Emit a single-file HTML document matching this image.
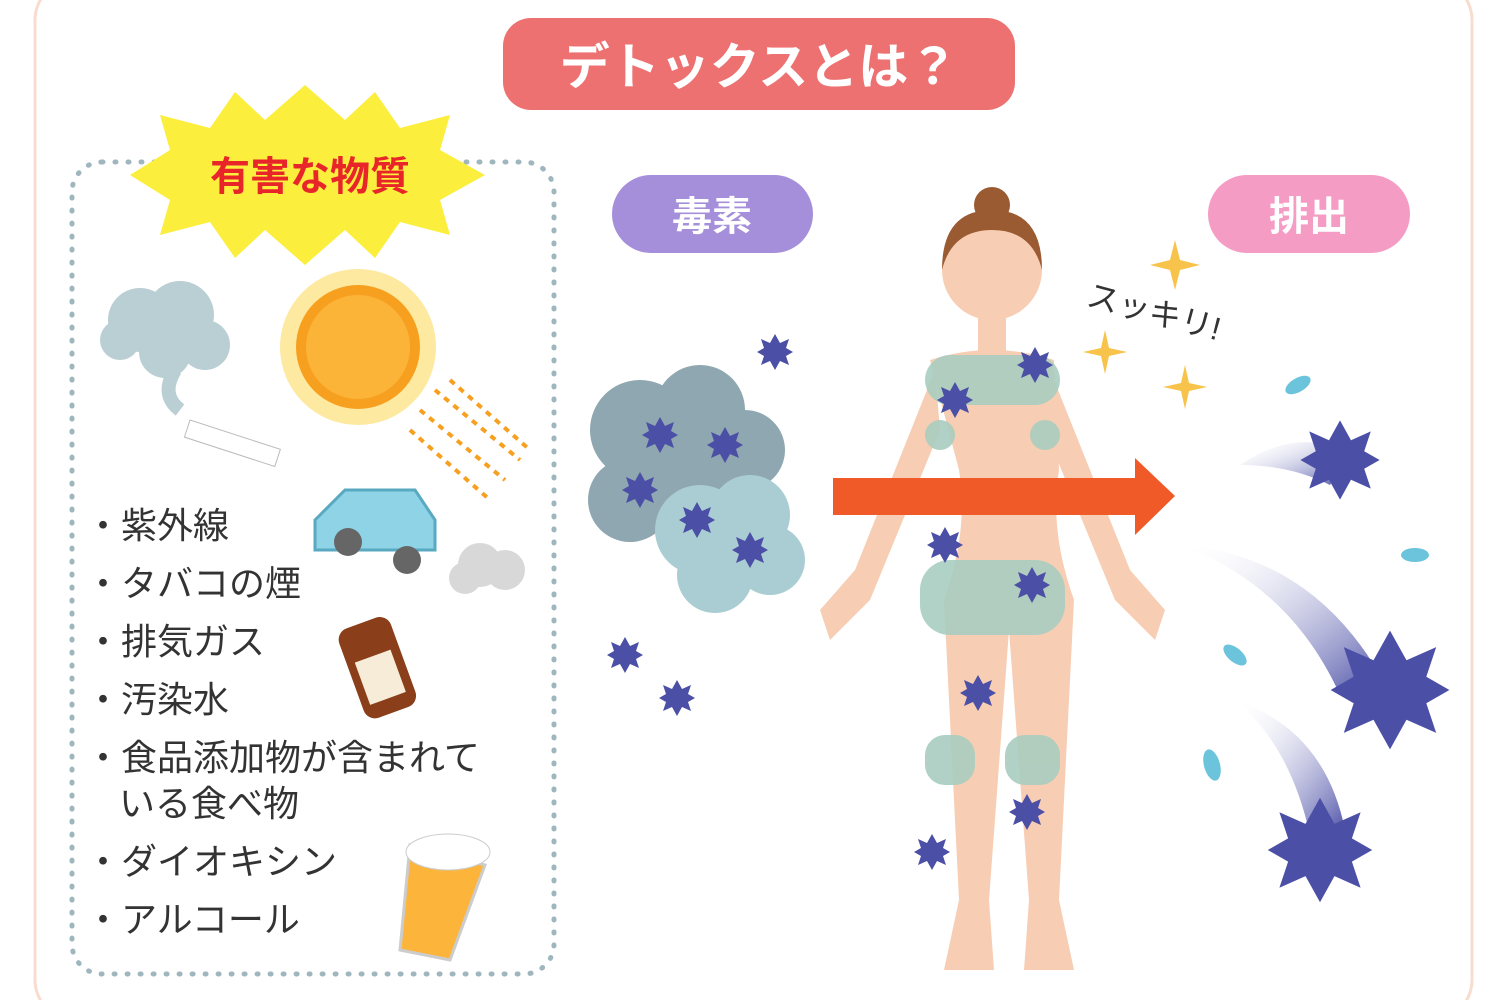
<!DOCTYPE html>
<html><head><meta charset="utf-8"><style>
body{margin:0;width:1504px;height:1000px;overflow:hidden;background:#fff;font-family:"Liberation Sans","Noto Sans CJK JP",sans-serif}
svg{position:absolute;left:0;top:0}
</style></head><body>
<svg width="1504" height="1000" viewBox="0 0 1504 1000">
<defs>
<g id="vir"><polygon points="0,-18 5,-9 14,-13 11,-4 18,0 11,4 14,13 5,9 0,18 -5,9 -14,13 -11,4 -18,0 -11,-4 -14,-13 -5,-9" fill="#4b4fa6"/></g>
<linearGradient id="tr" x1="0" y1="0" x2="1" y2="1"><stop offset="0" stop-color="#fff" stop-opacity="0"/><stop offset="1" stop-color="#4b4fa6"/></linearGradient>
</defs>
<rect x="35" y="-20" width="1437" height="1040" rx="40" fill="none" stroke="#f8dcd0" stroke-width="3"/>
<rect x="503" y="18" width="512" height="92" rx="28" fill="#ee7171"/>
<text x="759" y="84" font-size="50" font-weight="bold" fill="#fff" text-anchor="middle">デトックスとは？</text>
<rect x="72" y="162" width="482" height="812" rx="30" fill="none" stroke="#9fb6be" stroke-width="5" stroke-dasharray="1 12" stroke-linecap="round"/>
<polygon points="130,175 170,150 160,115 210,128 235,92 265,120 305,85 345,120 375,92 400,128 450,115 440,150 485,175 440,200 450,235 400,222 375,258 345,230 305,265 265,230 235,258 210,222 160,235 170,200" fill="#fbee3c"/>
<text x="310" y="190" font-size="40" font-weight="bold" fill="#e8262a" text-anchor="middle">有害な物質</text>
<g fill="#b9cfd4"><circle cx="140" cy="320" r="32"/><circle cx="180" cy="315" r="34"/><circle cx="205" cy="345" r="25"/><circle cx="165" cy="352" r="26"/><circle cx="120" cy="340" r="20"/></g>
<path d="M175 370 q-15 25 5 40" stroke="#b9cfd4" stroke-width="14" fill="none"/>
<rect x="190" y="420" width="95" height="18" fill="#fff" stroke="#bbb" transform="rotate(18 190 420)"/>
<circle cx="358" cy="347" r="78" fill="#fde9a0"/><circle cx="358" cy="347" r="62" fill="#f7a020"/><circle cx="358" cy="347" r="52" fill="#fbb338"/>
<g stroke="#f7a020" stroke-width="4" stroke-dasharray="6 6"><line x1="410" y1="430" x2="490" y2="500"/><line x1="420" y1="410" x2="505" y2="480"/><line x1="435" y1="390" x2="520" y2="460"/><line x1="450" y1="380" x2="530" y2="450"/></g>
<path d="M315 520 l30 -30 h70 l20 30 v30 h-120 z" fill="#8fd3e6" stroke="#5aa9c2" stroke-width="3"/>
<circle cx="348" cy="542" r="14" fill="#666"/><circle cx="407" cy="560" r="14" fill="#666"/>
<g fill="#d8d8d8"><circle cx="480" cy="565" r="22"/><circle cx="505" cy="570" r="20"/><circle cx="465" cy="578" r="16"/></g>
<rect x="350" y="620" width="55" height="95" rx="12" fill="#8a3e1a" transform="rotate(-20 378 668)"/><rect x="358" y="655" width="38" height="45" fill="#f6ecd8" transform="rotate(-20 378 668)"/>
<path d="M410 845 l75 20 l-35 95 l-50 -10 z" fill="#fcb53a" stroke="#ccc" stroke-width="3"/><ellipse cx="448" cy="852" rx="42" ry="18" fill="#fff" stroke="#ccc"/>
<g font-size="36" fill="#333">
<text x="85" y="538">・紫外線</text><text x="85" y="596">・タバコの煙</text><text x="85" y="654">・排気ガス</text><text x="85" y="712">・汚染水</text>
<text x="85" y="770">・食品添加物が含まれて</text><text x="119" y="816">いる食べ物</text><text x="85" y="874">・ダイオキシン</text><text x="85" y="932">・アルコール</text></g>
<rect x="612" y="175" width="201" height="78" rx="39" fill="#a58fda"/>
<text x="712" y="230" font-size="40" font-weight="bold" fill="#fff" text-anchor="middle">毒素</text>
<rect x="1208" y="175" width="202" height="78" rx="39" fill="#f59cc5"/>
<text x="1309" y="230" font-size="40" font-weight="bold" fill="#fff" text-anchor="middle">排出</text>
<g fill="#8fa7b0"><circle cx="640" cy="430" r="50"/><circle cx="700" cy="410" r="45"/><circle cx="745" cy="450" r="40"/><circle cx="630" cy="500" r="42"/><circle cx="690" cy="490" r="50"/></g>
<g fill="#a9cdd2"><circle cx="700" cy="530" r="45"/><circle cx="750" cy="515" r="40"/><circle cx="770" cy="560" r="35"/><circle cx="715" cy="575" r="38"/></g>
<use href="#vir" x="660" y="435"/><use href="#vir" x="725" y="445"/><use href="#vir" x="640" y="490"/><use href="#vir" x="697" y="520"/><use href="#vir" x="750" y="550"/><use href="#vir" x="775" y="352"/><use href="#vir" x="625" y="655"/><use href="#vir" x="677" y="698"/>
<g fill="#f7cdb3">
<circle cx="992" cy="270" r="50"/><circle cx="992" cy="205" r="18" fill="#9a5a32"/><path d="M942 270 q0 -60 50 -60 q50 0 50 60 q-10 -40 -50 -40 q-40 0 -50 40z" fill="#9a5a32"/>
<rect x="978" y="310" width="28" height="45"/>
<path d="M930 360 q62 -20 124 0 l5 110 q-10 60 15 130 l-15 300 l15 70 h-50 l5 -70 l-20 -270 l-20 270 l5 70 h-50 l15 -70 l-15 -300 q25 -70 15 -130z"/>
<path d="M935 370 l-80 200 l-35 40 l10 30 l40 -40 l70 -170z"/><path d="M1050 370 l80 200 l35 40 l-10 30 l-40 -40 l-70 -170z"/>
</g>
<g fill="#a9cdc0" opacity="0.9"><rect x="920" y="560" width="145" height="75" rx="30"/><rect x="925" y="355" width="135" height="50" rx="25"/><rect x="925" y="735" width="50" height="50" rx="20"/><rect x="1005" y="735" width="55" height="50" rx="20"/><circle cx="940" cy="435" r="15"/><circle cx="1045" cy="435" r="15"/></g>
<use href="#vir" x="955" y="400"/><use href="#vir" x="1035" y="365"/><use href="#vir" x="945" y="545"/><use href="#vir" x="1032" y="585"/><use href="#vir" x="978" y="693"/><use href="#vir" x="1027" y="812"/><use href="#vir" x="932" y="852"/>
<polygon points="833,478 1135,478 1135,458 1175,496 1135,535 1135,515 833,515" fill="#f05a28"/>
<text x="1085" y="305" font-size="32" fill="#333" transform="rotate(15 1085 305)">スッキリ!</text>
<g fill="#f7c34a"><path d="M1175 240 l5 20 l20 5 l-20 5 l-5 20 l-5 -20 l-20 -5 l20 -5z"/><path d="M1105 330 l4 18 l18 4 l-18 4 l-4 18 l-4 -18 l-18 -4 l18 -4z"/><path d="M1185 365 l4 18 l18 4 l-18 4 l-4 18 l-4 -18 l-18 -4 l18 -4z"/></g>
<path d="M1240 465 q60 -40 110 -10 l-20 30 q-40 -20 -90 -20z" fill="url(#tr)"/>
<path d="M1180 545 q130 10 200 130 l-40 20 q-50 -110 -160 -150z" fill="url(#tr)"/>
<path d="M1235 700 q90 30 110 130 l-35 5 q-20 -90 -75 -135z" fill="url(#tr)"/>
<g transform="translate(1340 460) scale(2.2)"><use href="#vir"/></g>
<g transform="translate(1390 690) scale(3.3)"><use href="#vir"/></g>
<g transform="translate(1320 850) scale(2.9)"><use href="#vir"/></g>
<g fill="#6bc4dc"><ellipse cx="1298" cy="385" rx="14" ry="7" transform="rotate(-30 1298 385)"/><ellipse cx="1415" cy="555" rx="14" ry="7"/><ellipse cx="1235" cy="655" rx="14" ry="7" transform="rotate(40 1235 655)"/><ellipse cx="1212" cy="765" rx="8" ry="16" transform="rotate(-15 1212 765)"/></g>
</svg>
</body></html>
